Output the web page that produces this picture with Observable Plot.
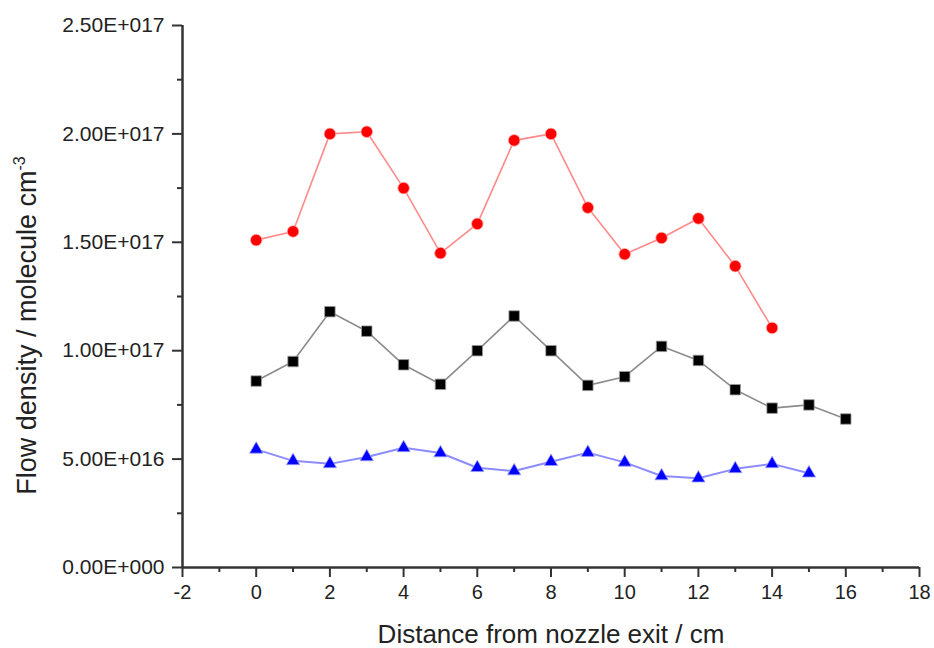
<!DOCTYPE html>
<html>
<head>
<meta charset="utf-8">
<script src="https://cdn.jsdelivr.net/npm/d3@7"></script>
<script src="https://cdn.jsdelivr.net/npm/@observablehq/plot@0.6"></script>
<style>
  html, body { margin: 0; padding: 0; background: #fff; }
  svg { display: block; }
</style>
</head>
<body>
<div id="chart"></div>
<script>
// Data
const distance = [0, 1, 2, 3, 4, 5, 6, 7, 8, 9, 10, 11, 12, 13, 14, 15, 16];
const redSeries = [1.51e17, 1.55e17, 2.00e17, 2.01e17, 1.75e17, 1.45e17, 1.585e17, 1.97e17, 2.00e17, 1.66e17, 1.445e17, 1.52e17, 1.61e17, 1.39e17, 1.105e17];
const blackSeries = [8.6e16, 9.5e16, 1.18e17, 1.09e17, 9.35e16, 8.45e16, 1.00e17, 1.16e17, 1.00e17, 8.4e16, 8.8e16, 1.02e17, 9.55e16, 8.2e16, 7.35e16, 7.5e16, 6.85e16];
const blueSeries = [5.45e16, 4.92e16, 4.78e16, 5.1e16, 5.52e16, 5.28e16, 4.6e16, 4.45e16, 4.88e16, 5.3e16, 4.85e16, 4.22e16, 4.12e16, 4.55e16, 4.78e16, 4.35e16];

const xTicks = [-2, 0, 2, 4, 6, 8, 10, 12, 14, 16, 18];
const xTickLabels = ["-2", "0", "2", "4", "6", "8", "10", "12", "14", "16", "18"];
const xMinorTicks = [-1, 1, 3, 5, 7, 9, 11, 13, 15, 17];
const yTicks = [0, 5e16, 1e17, 1.5e17, 2e17, 2.5e17];
const yTickLabels = ["0.00E+000", "5.00E+016", "1.00E+017", "1.50E+017", "2.00E+017", "2.50E+017"];
const yMinorTicks = [2.5e16, 7.5e16, 1.25e17, 1.75e17, 2.25e17];

const xLabel = "Distance from nozzle exit / cm";
const yLabel = "Flow density / molecule cm";
const yLabelSup = "-3";

const toRows = (vals) => vals.map((v, i) => ({x: distance[i], y: v}));
const red = toRows(redSeries);
const black = toRows(blackSeries);
const blue = toRows(blueSeries);

const font = "Arial, 'Liberation Sans', sans-serif";
const axisColor = "#333";

const chart = Plot.plot({
  width: 934,
  height: 648,
  marginLeft: 182,
  marginRight: 15,
  marginTop: 25,
  marginBottom: 81,
  style: {fontFamily: font, background: "#fff", color: "#222"},
  x: {domain: [-2, 18], axis: null},
  y: {domain: [0, 2.5e17], axis: null},
  marks: [
    // minor ticks
    Plot.axisX({ticks: xMinorTicks, tickSize: 5, tickFormat: () => "", stroke: axisColor, strokeWidth: 2, label: null}),
    Plot.axisY({ticks: yMinorTicks, tickSize: 5, tickFormat: () => "", stroke: axisColor, strokeWidth: 2, label: null}),
    // major ticks
    Plot.axisX({ticks: xTicks, tickSize: 10, tickPadding: 7, fontSize: 20, stroke: axisColor, strokeWidth: 2, label: null, fill: "#222",
      tickFormat: (d) => xTickLabels[xTicks.indexOf(d)]}),
    Plot.axisY({ticks: yTicks, tickSize: 10, tickPadding: 8, fontSize: 21, stroke: axisColor, strokeWidth: 2, label: null, fill: "#222",
      tickFormat: (d) => yTickLabels[yTicks.indexOf(d)]}),
    // axis lines
    Plot.ruleX([-2], {stroke: axisColor, strokeWidth: 2.5}),
    Plot.ruleY([0], {stroke: axisColor, strokeWidth: 2.5}),
    // series lines
    Plot.line(red, {x: "x", y: "y", stroke: "#ff8a8a", strokeWidth: 1.6}),
    Plot.line(black, {x: "x", y: "y", stroke: "#8c8c8c", strokeWidth: 1.6}),
    Plot.line(blue, {x: "x", y: "y", stroke: "#8c8cff", strokeWidth: 2}),
    // markers
    Plot.dot(red, {x: "x", y: "y", r: 5.8, symbol: "circle", fill: "#ff0000", stroke: "#ffb0b0", strokeWidth: 0.8}),
    Plot.dot(black, {x: "x", y: "y", r: 5.9, symbol: "square", fill: "#000", stroke: "#999", strokeWidth: 0.8}),
    Plot.dot(blue, {x: "x", y: "y", r: 4.9, symbol: "triangle", fill: "#0000ff", stroke: "#9a9aff", strokeWidth: 0.8}),
    // axis titles
    Plot.text([xLabel], {frameAnchor: "bottom", dy: 67, fontSize: 26, fill: "#222", lineAnchor: "middle", textAnchor: "middle"}),
    Plot.text([yLabel], {frameAnchor: "left", dx: -155, dy: 29, rotate: -90, fontSize: 27, fill: "#222", lineAnchor: "middle", textAnchor: "middle", className: "ylabel"})
  ]
});

// superscript on the y label
const yl = chart.querySelector(".ylabel text");
if (yl) {
  const sup = document.createElementNS("http://www.w3.org/2000/svg", "tspan");
  sup.textContent = yLabelSup;
  sup.setAttribute("font-size", "16");
  sup.setAttribute("dy", "-11");
  yl.appendChild(sup);
}

document.getElementById("chart").appendChild(chart);
</script>
</body>
</html>
